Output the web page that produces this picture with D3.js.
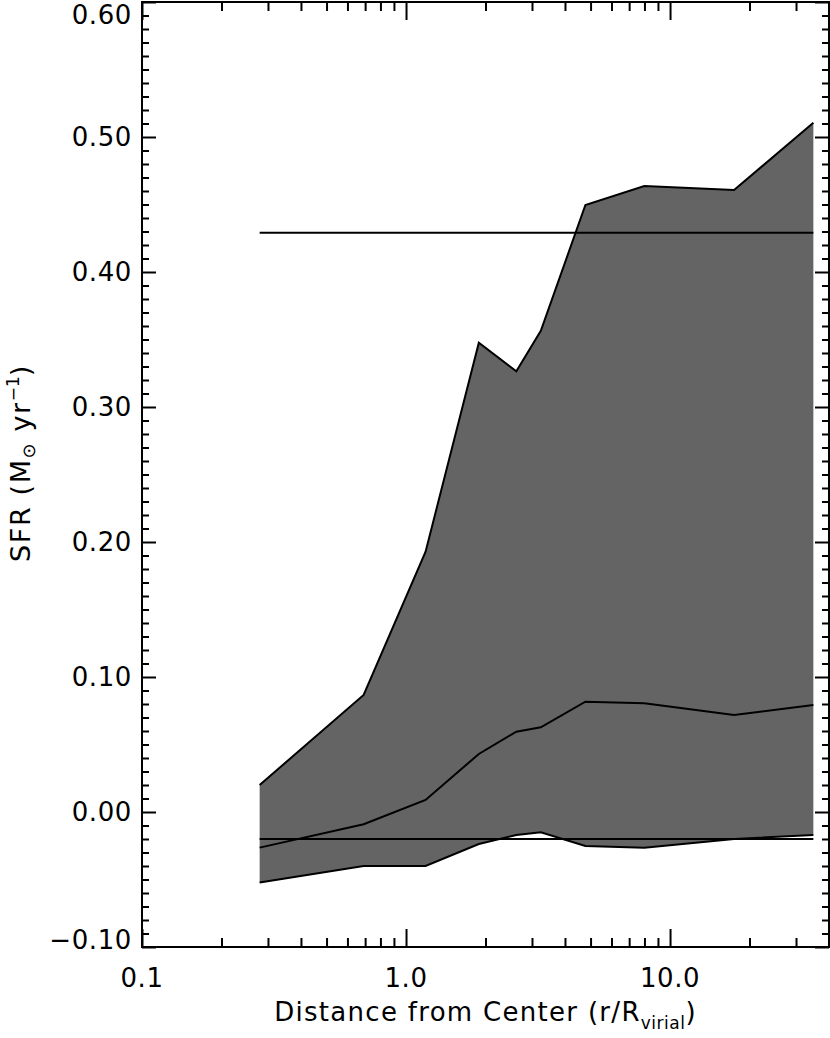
<!DOCTYPE html>
<html><head><meta charset="utf-8">
<script src="https://cdn.jsdelivr.net/npm/d3@7"></script>
<style>
html,body{margin:0;padding:0;background:#fff;}
svg{display:block;font-family:"DejaVu Sans",sans-serif;}
</style></head>
<body>
<svg id="chart" width="830" height="1038"></svg>
<script>
// ---- data ----
const radius = [0.279, 0.691, 1.186, 1.887, 2.617, 3.24, 4.78, 7.99, 17.48, 34.9];
const sfrUpper = [0.020, 0.0867, 0.1928, 0.3476, 0.3264, 0.3565, 0.4496, 0.4637, 0.4607, 0.5106];
const sfrMedian = [-0.0264, -0.0091, 0.0089, 0.043, 0.0595, 0.0627, 0.0817, 0.0805, 0.0719, 0.0793];
const sfrLower = [-0.0523, -0.040, -0.040, -0.0237, -0.017, -0.015, -0.0252, -0.0264, -0.020, -0.017];
const refLevels = [0.429, -0.020];
const xMajorTicks = [0.1, 1, 10];
const xMajorLabels = ["0.1", "1.0", "10.0"];
const xMinorTicks = [0.2,0.3,0.4,0.5,0.6,0.7,0.8,0.9,2,3,4,5,6,7,8,9,20,30];
const yMajorTicks = [-0.1,0,0.1,0.2,0.3,0.4,0.5,0.6];
const yMajorLabels = ["\u22120.10","0.00","0.10","0.20","0.30","0.40","0.50","0.60"];

// ---- layout ----
const L = 142, R = 829, T = 2, B = 947;
const svg = d3.select("#chart");
const x = d3.scaleLog().domain([0.1, 40]).range([L, R]);
const y = d3.scaleLinear().domain([-0.1, 0.6]).range([B, T]);
const yMinorTicks = d3.range(-10, 61).map(i => i/100).filter(v => Math.round(v*100) % 10 !== 0);

const pts = radius.map((r,i)=>({r, lo: sfrLower[i], hi: sfrUpper[i], med: sfrMedian[i]}));

// band
svg.append("path").datum(pts)
  .attr("d", d3.area().x(d=>x(d.r)).y0(d=>y(d.lo)).y1(d=>y(d.hi)))
  .attr("fill", "#646464").attr("stroke", "none");

const line = key => d3.line().x(d=>x(d.r)).y(d=>y(d[key]));
["hi","med","lo"].forEach(k=>{
  svg.append("path").datum(pts).attr("d", line(k)(pts))
    .attr("fill","none").attr("stroke","#000").attr("stroke-width",2).attr("stroke-linejoin","miter");
});
refLevels.forEach(v=>{
  svg.append("line").attr("x1", x(radius[0])).attr("x2", x(radius[radius.length-1]))
    .attr("y1", y(v)).attr("y2", y(v)).attr("stroke","#000").attr("stroke-width",2);
});

// axes (ticks inward)
function styleAxis(g){ g.select(".domain").remove(); g.selectAll("line").attr("stroke","#000").attr("stroke-width",2); g.selectAll("text").remove(); }
svg.append("g").attr("transform",`translate(0,${B})`).call(d3.axisBottom(x).tickValues(xMajorTicks).tickSize(-18)).call(styleAxis);
svg.append("g").attr("transform",`translate(0,${B})`).call(d3.axisBottom(x).tickValues(xMinorTicks).tickSize(-9)).call(styleAxis);
svg.append("g").attr("transform",`translate(0,${T})`).call(d3.axisTop(x).tickValues(xMajorTicks).tickSize(-18)).call(styleAxis);
svg.append("g").attr("transform",`translate(0,${T})`).call(d3.axisTop(x).tickValues(xMinorTicks).tickSize(-9)).call(styleAxis);
svg.append("g").attr("transform",`translate(${L},0)`).call(d3.axisLeft(y).tickValues(yMajorTicks).tickSize(-14)).call(styleAxis);
svg.append("g").attr("transform",`translate(${L},0)`).call(d3.axisLeft(y).tickValues(yMinorTicks).tickSize(-7)).call(styleAxis);
svg.append("g").attr("transform",`translate(${R},0)`).call(d3.axisRight(y).tickValues(yMajorTicks).tickSize(-14)).call(styleAxis);
svg.append("g").attr("transform",`translate(${R},0)`).call(d3.axisRight(y).tickValues(yMinorTicks).tickSize(-7)).call(styleAxis);

svg.append("rect").attr("x",L).attr("y",T).attr("width",R-L).attr("height",B-T)
  .attr("fill","none").attr("stroke","#000").attr("stroke-width",2);

// tick labels
const fs = 26;
svg.append("g").selectAll("text").data(yMajorTicks).join("text")
  .attr("x", L-10)
  .attr("y", d => Math.min(Math.max(y(d), 15), 940))
  .attr("dy","0.36em").attr("text-anchor","end").attr("font-size",fs).attr("fill","#000")
  .attr("letter-spacing", 0.6)
  .text((d,i)=>yMajorLabels[i]);
svg.append("g").selectAll("text").data(xMajorTicks).join("text")
  .attr("x", d=>x(d)).attr("y", 987)
  .attr("text-anchor","middle").attr("font-size",fs).attr("fill","#000")
  .attr("letter-spacing", 0.6)
  .text((d,i)=>xMajorLabels[i]);

// axis titles
const xt = svg.append("text").attr("x",(L+R)/2).attr("y",1021).attr("text-anchor","middle")
  .attr("font-size",fs).attr("fill","#000").attr("letter-spacing",1.3);
xt.append("tspan").text("Distance from Center (r/R");
xt.append("tspan").attr("font-size",17).attr("dy",8).attr("letter-spacing",0.5).text("virial");
xt.append("tspan").attr("dy",-8).text(")");

const yt = svg.append("text").attr("transform",`translate(30,463) rotate(-90)`).attr("text-anchor","middle")
  .attr("font-size",27).attr("fill","#000").attr("letter-spacing",1.6);
yt.append("tspan").text("SFR (M");
yt.append("tspan").attr("font-size",18).attr("dy",5).text("\u2299");
yt.append("tspan").attr("dy",-5).text(" yr");
yt.append("tspan").attr("font-size",17).attr("dy",-11).attr("letter-spacing",0).text("\u22121");
yt.append("tspan").attr("dy",11).text(")");
</script>
</body></html>
